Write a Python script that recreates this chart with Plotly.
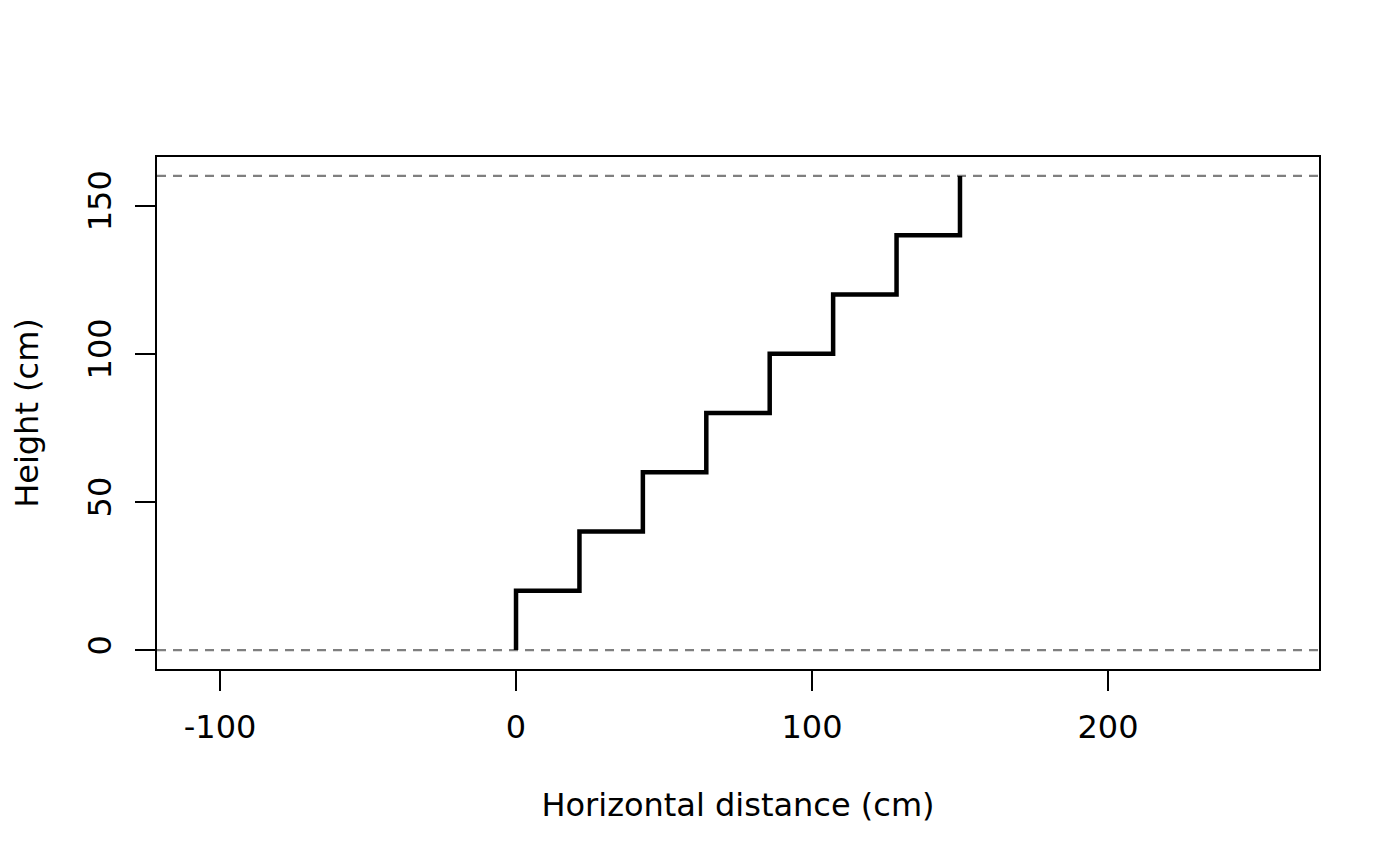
import plotly.graph_objects as go

# Data
step_x = [0, 21.43, 42.86, 64.29, 85.71, 107.14, 128.57, 150, 150]
step_y = [0, 20, 40, 60, 80, 100, 120, 140, 160]
reference_heights = [0, 160]
x_ticks = [-100, 0, 100, 200]
y_ticks = [0, 50, 100, 150]
x_label = "Horizontal distance (cm)"
y_label = "Height (cm)"

FONT = "DejaVu Sans"
fs = 32

fig = go.Figure()
fig.add_trace(go.Scatter(
    x=step_x, y=step_y, mode="lines", line_shape="vh",
    line=dict(color="black", width=4.5), showlegend=False, hoverinfo="skip",
))
for h in reference_heights:
    fig.add_hline(y=h, line=dict(color="#7f7f7f", width=2.2, dash="9px,7px"), layer="below")

axis_common = dict(
    showgrid=False, zeroline=False, showline=True, mirror=True,
    linecolor="black", linewidth=2, ticks="outside", ticklen=20, tickwidth=2,
    tickcolor="black", tickfont=dict(family=FONT, size=fs, color="black"),
)
fig.update_xaxes(
    range=[-121.3, 271.3], tickvals=x_ticks, ticktext=[str(v) for v in x_ticks],
    title=dict(text=x_label, font=dict(family=FONT, size=fs, color="black"), standoff=48),
    ticklabelstandoff=9, **axis_common,
)
fig.update_yaxes(
    range=[-6.4, 166.4], tickvals=y_ticks, ticktext=[str(v) for v in y_ticks],
    tickangle=-90,
    title=dict(text=y_label, font=dict(family=FONT, size=fs, color="black"), standoff=34),
    ticklabelstandoff=11, **axis_common,
)
fig.update_layout(
    width=1384, height=850,
    margin=dict(l=149, r=73, t=149, b=189, autoexpand=False),
    paper_bgcolor="white", plot_bgcolor="white",
    font=dict(family=FONT, size=fs, color="black"),
)
fig.write_html("out.html")
